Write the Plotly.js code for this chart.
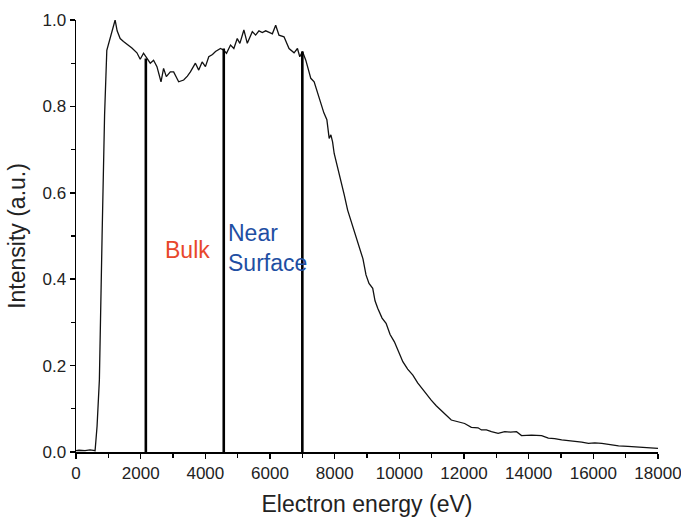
<!DOCTYPE html>
<html>
<head>
<meta charset="utf-8">
<script src="https://cdn.plot.ly/plotly-3.0.1.min.js"></script>
<style>html,body{margin:0;padding:0;background:#fff;}#chart{width:681px;height:517px;}</style>
</head>
<body>
<div id="chart"></div>
<script>
// Spectrum (electron energy in eV, normalised intensity)
var energy = [0, 93, 279, 434, 537, 590, 652, 723, 807, 884, 953, 1024, 1117, 1210, 1272, 1366, 1468, 1583, 1729, 1884, 1986, 2089, 2194, 2297, 2399, 2504, 2629, 2709, 2793, 2917, 3020, 3103, 3175, 3330, 3445, 3538, 3693, 3796, 3901, 4003, 4106, 4221, 4314, 4469, 4571, 4655, 4779, 4882, 4987, 5068, 5192, 5298, 5453, 5555, 5658, 5763, 5866, 5959, 6073, 6176, 6278, 6433, 6589, 6744, 6849, 6921, 7004, 7107, 7262, 7365, 7480, 7573, 7666, 7759, 7830, 7883, 7935, 7985, 8091, 8193, 8296, 8401, 8534, 8659, 8752, 8875, 8969, 9062, 9177, 9248, 9332, 9466, 9590, 9714, 9847, 9977, 10108, 10257, 10418, 10567, 10729, 10862, 10986, 11141, 11297, 11452, 11607, 11793, 12020, 12227, 12435, 12538, 12693, 12848, 13056, 13261, 13438, 13624, 13779, 14090, 14400, 14608, 14803, 15021, 15207, 15433, 15641, 15849, 16045, 16262, 16510, 16780, 17069, 17401, 17690, 18000];
var intensity = [0.003, 0.004, 0.003, 0.005, 0.004, 0.003, 0.06, 0.167, 0.5, 0.78, 0.93, 0.95, 0.98, 1.0, 0.975, 0.957, 0.95, 0.944, 0.935, 0.924, 0.909, 0.923, 0.911, 0.90, 0.907, 0.892, 0.857, 0.888, 0.869, 0.88, 0.88, 0.868, 0.857, 0.861, 0.87, 0.88, 0.90, 0.884, 0.903, 0.892, 0.915, 0.92, 0.927, 0.934, 0.93, 0.923, 0.942, 0.934, 0.957, 0.946, 0.977, 0.946, 0.973, 0.965, 0.975, 0.971, 0.975, 0.972, 0.968, 0.988, 0.965, 0.961, 0.934, 0.924, 0.934, 0.915, 0.927, 0.907, 0.865, 0.857, 0.83, 0.803, 0.785, 0.769, 0.726, 0.734, 0.718, 0.691, 0.66, 0.63, 0.595, 0.56, 0.528, 0.498, 0.478, 0.447, 0.41, 0.39, 0.379, 0.35, 0.333, 0.31, 0.298, 0.272, 0.255, 0.232, 0.209, 0.192, 0.178, 0.16, 0.144, 0.13, 0.12, 0.107, 0.097, 0.085, 0.074, 0.07, 0.066, 0.057, 0.056, 0.051, 0.051, 0.047, 0.043, 0.047, 0.046, 0.047, 0.038, 0.039, 0.038, 0.032, 0.031, 0.028, 0.027, 0.025, 0.023, 0.02, 0.021, 0.02, 0.017, 0.014, 0.013, 0.011, 0.01, 0.0085];

// Vertical region markers
var markerEnergy = [2160, 4570, 7000];
var markerTop = [0.911, 0.934, 0.927];

// Region labels
var labelText = ["Bulk", "Near<br>Surface"];
var labelEnergy = [3450, 4650];
var labelIntensity = [0.468, 0.472];

var traces = [{
  x: energy, y: intensity, type: 'scatter', mode: 'lines',
  line: {color: '#111', width: 1.3}, hoverinfo: 'skip', showlegend: false
}];
markerEnergy.forEach(function (e, i) {
  traces.push({
    x: [e, e], y: [0, markerTop[i]], type: 'scatter', mode: 'lines',
    line: {color: '#000', width: 2.6}, showlegend: false, hoverinfo: 'skip'
  });
});

var fontFam = 'Arial, "Liberation Sans", sans-serif';
var layout = {
  width: 681, height: 517,
  margin: {l: 76, r: 23, t: 20, b: 65},
  paper_bgcolor: '#fff', plot_bgcolor: '#fff',
  font: {family: fontFam, color: '#222'},
  showlegend: false,
  xaxis: {
    range: [0, 18000], dtick: 2000, tick0: 0, tickformat: 'd',
    ticklabeloverflow: 'allow',
    showgrid: false, zeroline: false,
    showline: true, linecolor: '#000', linewidth: 1.5,
    ticks: 'outside', ticklen: 5, tickwidth: 1.5, tickcolor: '#000',
    minor: {dtick: 1000, ticks: 'outside', ticklen: 4, tickwidth: 1.2, tickcolor: '#000'},
    tickfont: {size: 17, family: fontFam, color: '#222'},
    title: {text: 'Electron energy (eV)', font: {size: 23, family: fontFam, color: '#222'}, standoff: 15}
  },
  yaxis: {
    range: [0, 1.0], dtick: 0.2, tick0: 0, tickformat: '.1f',
    ticklabeloverflow: 'allow',
    showgrid: false, zeroline: false,
    showline: true, linecolor: '#000', linewidth: 1.5,
    ticks: 'outside', ticklen: 5, tickwidth: 1.5, tickcolor: '#000',
    minor: {dtick: 0.1, ticks: 'outside', ticklen: 4, tickwidth: 1.2, tickcolor: '#000'},
    tickfont: {size: 17, family: fontFam, color: '#222'},
    title: {text: 'Intensity (a.u.)', font: {size: 23, family: fontFam, color: '#222'}, standoff: 10}
  },
  annotations: [
    {x: labelEnergy[0], y: labelIntensity[0], text: labelText[0], showarrow: false,
     xanchor: 'center', yanchor: 'middle', font: {size: 23, family: fontFam, color: '#E8472B'}},
    {x: labelEnergy[1], y: labelIntensity[1], text: labelText[1], showarrow: false,
     xanchor: 'left', yanchor: 'middle', align: 'left', font: {size: 23, family: fontFam, color: '#1F4FA3'}}
  ]
};

Plotly.newPlot('chart', traces, layout, {displayModeBar: false, staticPlot: true});
</script>
</body>
</html>
